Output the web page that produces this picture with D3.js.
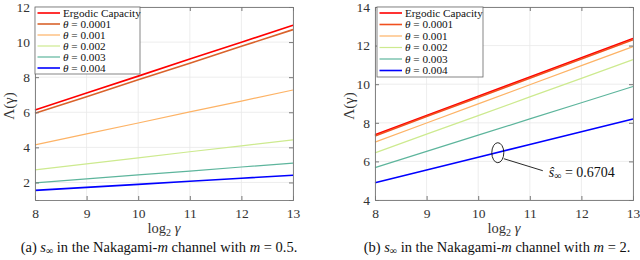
<!DOCTYPE html>
<html>
<head>
<meta charset="utf-8">
<script src="https://cdn.jsdelivr.net/npm/d3@7"></script>
<style>
  body { margin: 0; background: #fff; }
  svg, svg text { font-family: "Liberation Serif", "DejaVu Serif", serif; }
</style>
</head>
<body>
<div id="canvas"></div>
<script>
// x values (log2 gamma)
var xVals = [8, 9, 10, 11, 12, 13];

// series names / colours
var names = ["Ergodic Capacity", "0.0001", "0.001", "0.002", "0.003", "0.004"];
var colorsA = ["#ff0000", "#d9622b", "#fdb366", "#cdea8f", "#5db59c", "#0000ff"];
var colorsB = ["#ff0000", "#f0501e", "#fdb366", "#cdea8f", "#5db59c", "#0000ff"];

// (a) m = 0.5
var erg_a  = [6.13, 7.10, 8.06, 9.03, 9.99, 10.96];
var t1_a   = [5.94, 6.89, 7.85, 8.80, 9.76, 10.71];
var t2_a   = [4.14, 4.77, 5.39, 6.02, 6.64, 7.27];
var t3_a   = [2.72, 3.06, 3.40, 3.75, 4.09, 4.43];
var t4_a   = [1.98, 2.20, 2.43, 2.65, 2.88, 3.10];
var t5_a   = [1.55, 1.72, 1.89, 2.07, 2.24, 2.41];

// (b) m = 2
var erg_b  = [7.38, 8.38, 9.38, 10.37, 11.37, 12.37];
var t1_b   = [7.32, 8.32, 9.31, 10.31, 11.30, 12.30];
var t2_b   = [7.00, 7.99, 8.98, 9.97, 10.96, 11.95];
var t3_b   = [6.44, 7.41, 8.37, 9.34, 10.30, 11.27];
var t4_b   = [5.68, 6.52, 7.36, 8.20, 9.04, 9.88];
var t5_b   = [4.89, 5.55, 6.21, 6.88, 7.54, 8.20];

var yTicksA = [2, 4, 6, 8, 10, 12];
var yTicksB = [4, 6, 8, 10, 12, 14];

// annotation in (b)
var annX = 10.38, annY = 6.45, annText = "0.6704";

var svg = d3.select("#canvas").append("svg")
    .attr("width", 640).attr("height", 260);

var plotTop = 7, plotBottom = 200;

function drawPanel(opt) {
  var x = d3.scaleLinear().domain([8, 13]).range([opt.left, opt.left + 258]);
  var y = d3.scaleLinear().domain(opt.ydom).range([plotBottom, plotTop]);
  var g = svg.append("g");

  // grid
  g.selectAll(".gx").data(xVals).enter().append("line")
    .attr("x1", d => x(d)).attr("x2", d => x(d))
    .attr("y1", plotTop).attr("y2", plotBottom)
    .attr("stroke", "#e8e8e8").attr("stroke-width", 0.8);
  g.selectAll(".gy").data(opt.yticks).enter().append("line")
    .attr("x1", x(8)).attr("x2", x(13))
    .attr("y1", d => y(d)).attr("y2", d => y(d))
    .attr("stroke", "#e8e8e8").attr("stroke-width", 0.8);

  // lines
  var line = d3.line().x((d, i) => x(xVals[i])).y(d => y(d));
  opt.series.forEach(function(s, i) {
    g.append("path").datum(s)
      .attr("d", line)
      .attr("fill", "none")
      .attr("stroke", opt.colors[i])
      .attr("stroke-width", (i < 2 || i == 5) ? 1.6 : 1.2);
  });

  // axes (box on all four sides)
  var fmt = d3.format("d");
  var xAxis = d3.axisBottom(x).tickValues(xVals).tickFormat(fmt).tickSize(-4).tickPadding(8);
  var yAxis = d3.axisLeft(y).tickValues(opt.yticks).tickFormat(fmt).tickSize(-4).tickPadding(5);
  var xa = g.append("g").attr("transform", "translate(0," + plotBottom + ")").call(xAxis);
  var ya = g.append("g").attr("transform", "translate(" + opt.left + ",0)").call(yAxis);
  var xt = g.append("g").attr("transform", "translate(0," + plotTop + ")").call(d3.axisTop(x).tickValues(xVals).tickSize(-4).tickFormat(""));
  var yr = g.append("g").attr("transform", "translate(" + x(13) + ",0)").call(d3.axisRight(y).tickValues(opt.yticks).tickSize(-4).tickFormat(""));
  [xa, ya, xt, yr].forEach(function(a) {
    a.attr("font-family", "Liberation Serif").attr("font-size", 13.5);
    a.select(".domain").attr("stroke", "#777").attr("stroke-width", 0.9);
    a.selectAll(".tick line").attr("stroke", "#777");
    a.selectAll("text").attr("fill", "#333");
  });

  // axis labels
  var xl = g.append("text").attr("x", x(10.5)).attr("y", 233)
    .attr("text-anchor", "middle").attr("font-size", 14.5).attr("fill", "#333");
  xl.append("tspan").text("log");
  xl.append("tspan").attr("font-size", 10).attr("dy", 3).text("2");
  xl.append("tspan").attr("dy", -3).attr("font-style", "italic").text(" \u03b3");

  g.append("text")
    .attr("transform", "translate(" + (opt.left - 21) + ",106) rotate(-90)")
    .attr("text-anchor", "middle").attr("font-size", 15).attr("fill", "#333")
    .text("\u039b(\u03b3)");

  // legend
  var lg = g.append("g").attr("transform", "translate(" + (opt.left + opt.legDx) + "," + plotTop + ")");
  lg.append("rect").attr("width", opt.legW).attr("height", opt.legH)
    .attr("fill", "#fff").attr("stroke", "#666").attr("stroke-width", 0.8);
  names.forEach(function(n, i) {
    var yy = 6 + i * opt.legStep;
    lg.append("line").attr("x1", 2.5).attr("x2", 25).attr("y1", yy).attr("y2", yy)
      .attr("stroke", opt.colors[i]).attr("stroke-width", (i < 2 || i == 5) ? 1.6 : 1.2);
    var t = lg.append("text").attr("x", 28).attr("y", yy + 3.6)
      .attr("font-size", 11.2).attr("fill", "#111");
    if (i == 0) t.text(n);
    else {
      t.append("tspan").attr("font-style", "italic").text("\u03b8");
      t.append("tspan").text(" = " + n);
    }
  });

  // caption
  var c = svg.append("text").attr("x", opt.capX).attr("y", 252)
    .attr("text-anchor", "middle").attr("font-size", 14.5).attr("fill", "#111");
  c.append("tspan").text("(" + opt.tag + ") ");
  c.append("tspan").attr("font-style", "italic").text("s");
  c.append("tspan").attr("font-size", 10).attr("dy", 2).text("\u221e");
  c.append("tspan").attr("dy", -2).text(" in the Nakagami-");
  c.append("tspan").attr("font-style", "italic").text("m");
  c.append("tspan").text(" channel with ");
  c.append("tspan").attr("font-style", "italic").text("m");
  c.append("tspan").text(" = " + opt.m + ".");

  return { x: x, y: y, g: g };
}

drawPanel({
  left: 35, ydom: [1, 12], yticks: yTicksA, colors: colorsA,
  series: [erg_a, t1_a, t2_a, t3_a, t4_a, t5_a],
  legDx: 0, legW: 105, legH: 67, legStep: 11,
  tag: "a", m: "0.5", capX: 159
});

var pb = drawPanel({
  left: 375, ydom: [4, 14], yticks: yTicksB, colors: colorsB,
  series: [erg_b, t1_b, t2_b, t3_b, t4_b, t5_b],
  legDx: 2, legW: 106, legH: 70, legStep: 11.5,
  tag: "b", m: "2", capX: 497
});

// annotation ellipse + line + label
var ex = pb.x(annX), ey = pb.y(annY);
pb.g.append("ellipse").attr("cx", ex).attr("cy", ey).attr("rx", 6).attr("ry", 10)
  .attr("fill", "none").attr("stroke", "#111").attr("stroke-width", 0.9);
pb.g.append("line").attr("x1", ex + 6).attr("y1", ey + 6)
  .attr("x2", ex + 45).attr("y2", ey + 18)
  .attr("stroke", "#111").attr("stroke-width", 0.9);
var at = pb.g.append("text").attr("x", ex + 51).attr("y", ey + 24)
  .attr("font-size", 14).attr("fill", "#111");
at.append("tspan").attr("font-style", "italic").text("\u015d");
at.append("tspan").attr("font-size", 10).attr("dy", 2).text("\u221e");
at.append("tspan").attr("dy", -2).text(" = " + annText);
</script>
</body>
</html>
